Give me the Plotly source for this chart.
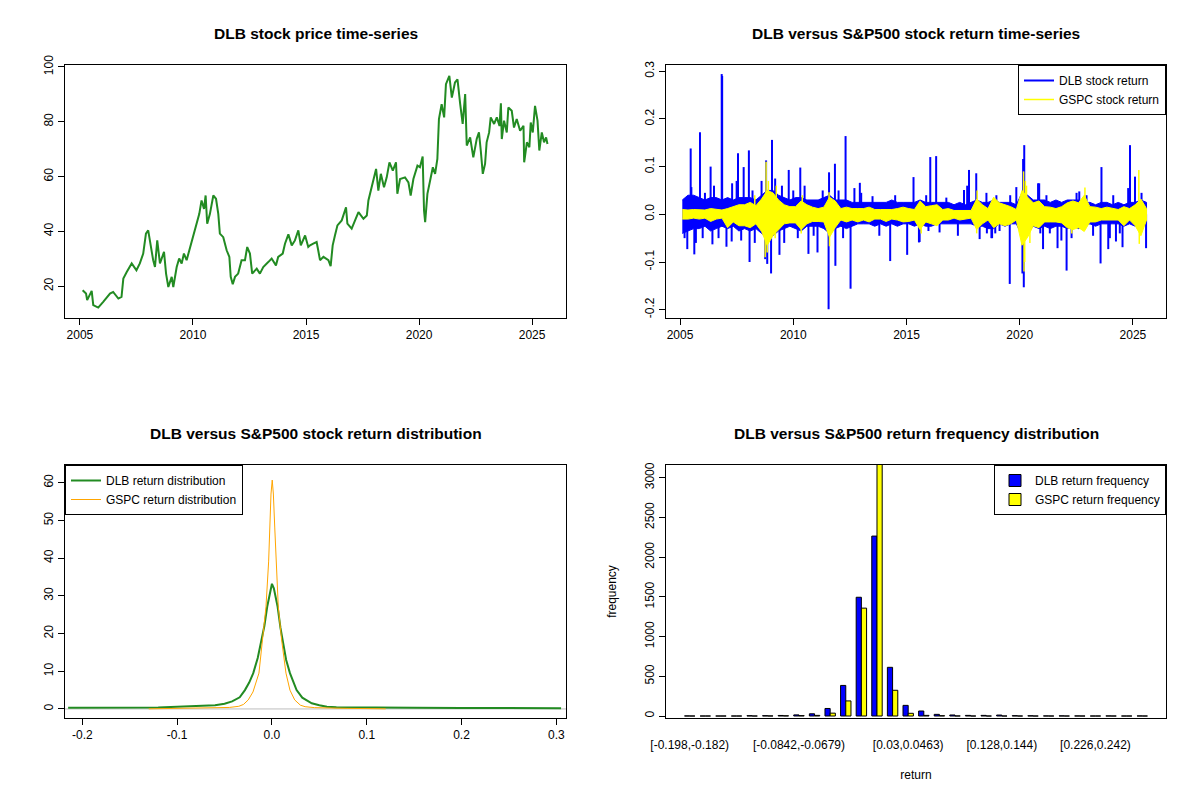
import plotly.graph_objects as go
from plotly.subplots import make_subplots

# DLB closing price (decimal year, USD)
price_year = [
    2005.12, 2005.27, 2005.32, 2005.52, 2005.59, 2005.81, 2006.03, 2006.33, 2006.47, 2006.70,
    2006.84, 2006.92, 2007.07, 2007.29, 2007.50, 2007.65, 2007.80, 2007.92, 2008.02, 2008.13,
    2008.24, 2008.32, 2008.42, 2008.54, 2008.72, 2008.81, 2008.91, 2009.06, 2009.13, 2009.28,
    2009.39, 2009.50, 2009.60, 2009.72, 2009.87, 2010.01, 2010.16, 2010.28, 2010.38, 2010.49,
    2010.56, 2010.63, 2010.75, 2010.90, 2011.02, 2011.12, 2011.19, 2011.34, 2011.49, 2011.61,
    2011.67, 2011.76, 2011.86, 2012.00, 2012.15, 2012.30, 2012.40, 2012.52, 2012.62, 2012.82,
    2012.96, 2013.11, 2013.33, 2013.48, 2013.67, 2013.77, 2013.97, 2014.07, 2014.22, 2014.37,
    2014.51, 2014.66, 2014.77, 2014.96, 2015.10, 2015.18, 2015.32, 2015.47, 2015.54, 2015.62,
    2015.77, 2015.99, 2016.09, 2016.18, 2016.28, 2016.39, 2016.58, 2016.77, 2016.83, 2017.02,
    2017.17, 2017.32, 2017.54, 2017.69, 2017.76, 2017.91, 2018.10, 2018.20, 2018.31, 2018.45,
    2018.57, 2018.69, 2018.84, 2018.98, 2019.04, 2019.16, 2019.38, 2019.53, 2019.63, 2019.75,
    2019.93, 2020.04, 2020.16, 2020.22, 2020.27, 2020.37, 2020.49, 2020.61, 2020.71, 2020.81,
    2020.88, 2021.00, 2021.11, 2021.19, 2021.34, 2021.45, 2021.59, 2021.70, 2021.82, 2021.93,
    2022.04, 2022.11, 2022.26, 2022.40, 2022.55, 2022.65, 2022.73, 2022.82, 2022.92, 2022.99,
    2023.10, 2023.17, 2023.32, 2023.44, 2023.56, 2023.62, 2023.66, 2023.76, 2023.88, 2023.95,
    2024.10, 2024.20, 2024.32, 2024.47, 2024.62, 2024.65, 2024.77, 2024.88, 2024.94, 2025.03,
    2025.13, 2025.24, 2025.32, 2025.43, 2025.53, 2025.62, 2025.68,
]
price_close = [
    18.5, 17.3, 14.9, 18.3, 13.1, 12.2, 14.3, 17.3, 17.9, 15.5,
    16.1, 22.8, 25.2, 28.3, 25.8, 28.3, 31.9, 39.2, 40.4, 34.3,
    29.5, 27.0, 36.7, 28.3, 32.5, 24.6, 19.7, 23.4, 19.7, 27.0,
    30.1, 28.3, 31.9, 29.5, 34.3, 37.9, 42.8, 46.4, 51.3, 48.2,
    53.1, 42.8, 46.4, 53.1, 51.9, 46.4, 39.2, 37.9, 33.1, 30.7,
    23.4, 20.7, 23.4, 24.6, 29.5, 29.5, 34.3, 31.9, 24.6, 26.4,
    24.6, 27.0, 28.8, 30.1, 27.6, 30.7, 31.9, 35.5, 38.9, 34.9,
    36.7, 40.4, 34.9, 38.5, 34.3, 34.9, 35.5, 36.1, 33.1, 29.5,
    30.7, 29.5, 27.3, 34.9, 38.5, 42.2, 44.0, 48.8, 42.8, 41.0,
    44.0, 47.0, 44.6, 45.8, 51.3, 56.7, 62.8, 54.9, 61.0, 56.1,
    59.7, 65.2, 62.2, 65.2, 53.7, 59.1, 59.7, 57.9, 53.1, 59.1,
    64.0, 63.4, 67.3, 47.6, 43.4, 53.7, 58.5, 63.4, 61.0, 66.4,
    81.0, 86.4, 81.6, 93.7, 96.7, 88.8, 94.3, 95.5, 86.4, 79.2,
    90.1, 71.3, 74.3, 67.0, 73.7, 76.1, 69.5, 61.0, 64.6, 72.5,
    76.1, 81.6, 79.2, 81.6, 78.5, 86.7, 73.7, 80.4, 76.1, 85.2,
    84.0, 77.9, 81.0, 76.7, 78.5, 65.2, 72.5, 70.7, 79.7, 76.1,
    85.8, 80.4, 69.5, 76.1, 72.5, 74.3, 71.9,
]

# daily returns: usual range per quarter (high / low) plus the isolated large moves
ret_quarter = [2005.10 + 0.25 * i for i in range(83)]
dlb_band_hi = [
    0.030, 0.040, 0.040, 0.035, 0.030, 0.035, 0.035, 0.030, 0.035, 0.030, 0.035, 0.035,
    0.035, 0.030, 0.040, 0.050, 0.050, 0.040, 0.035, 0.030, 0.035, 0.035, 0.030, 0.030,
    0.030, 0.035, 0.040, 0.030, 0.030, 0.030, 0.025, 0.025, 0.025, 0.025, 0.025, 0.025,
    0.025, 0.030, 0.025, 0.025, 0.025, 0.025, 0.030, 0.025, 0.025, 0.025, 0.025, 0.025,
    0.020, 0.025, 0.020, 0.025, 0.030, 0.025, 0.025, 0.030, 0.025, 0.025, 0.025, 0.020,
    0.045, 0.040, 0.030, 0.030, 0.030, 0.025, 0.030, 0.025, 0.030, 0.030, 0.030, 0.025,
    0.025, 0.020, 0.025, 0.025, 0.020, 0.025, 0.020, 0.025, 0.025, 0.030, 0.025,
]
dlb_band_lo = [
    -0.040, -0.035, -0.030, -0.030, -0.025, -0.035, -0.030, -0.025, -0.030, -0.025, -0.035, -0.030,
    -0.035, -0.030, -0.040, -0.050, -0.045, -0.035, -0.030, -0.025, -0.030, -0.035, -0.025, -0.025,
    -0.025, -0.030, -0.040, -0.030, -0.025, -0.030, -0.025, -0.020, -0.020, -0.020, -0.025, -0.020,
    -0.025, -0.020, -0.025, -0.020, -0.020, -0.025, -0.020, -0.025, -0.025, -0.020, -0.020, -0.020,
    -0.020, -0.020, -0.020, -0.020, -0.025, -0.025, -0.030, -0.030, -0.020, -0.025, -0.020, -0.020,
    -0.045, -0.040, -0.025, -0.030, -0.025, -0.030, -0.025, -0.025, -0.030, -0.025, -0.030, -0.025,
    -0.020, -0.025, -0.020, -0.020, -0.020, -0.020, -0.025, -0.020, -0.025, -0.030, -0.020,
]
gspc_band_hi = [
    0.010, 0.009, 0.010, 0.009, 0.009, 0.012, 0.010, 0.009, 0.012, 0.016, 0.020, 0.020,
    0.025, 0.018, 0.032, 0.050, 0.045, 0.030, 0.020, 0.016, 0.016, 0.028, 0.020, 0.015,
    0.012, 0.015, 0.036, 0.028, 0.012, 0.015, 0.012, 0.012, 0.012, 0.015, 0.010, 0.010,
    0.010, 0.010, 0.012, 0.015, 0.012, 0.010, 0.028, 0.016, 0.018, 0.020, 0.010, 0.012,
    0.008, 0.008, 0.008, 0.008, 0.032, 0.020, 0.012, 0.036, 0.024, 0.020, 0.016, 0.010,
    0.050, 0.036, 0.024, 0.028, 0.016, 0.015, 0.012, 0.016, 0.024, 0.028, 0.024, 0.040,
    0.016, 0.015, 0.012, 0.015, 0.012, 0.010, 0.016, 0.012, 0.020, 0.032, 0.012,
]
gspc_band_lo = [
    -0.010, -0.010, -0.008, -0.010, -0.008, -0.015, -0.010, -0.008, -0.028, -0.016, -0.024, -0.024,
    -0.028, -0.020, -0.036, -0.065, -0.045, -0.032, -0.020, -0.018, -0.018, -0.032, -0.020, -0.015,
    -0.015, -0.016, -0.048, -0.028, -0.012, -0.016, -0.012, -0.016, -0.012, -0.016, -0.010, -0.010,
    -0.015, -0.010, -0.012, -0.016, -0.015, -0.012, -0.032, -0.016, -0.020, -0.024, -0.012, -0.012,
    -0.008, -0.012, -0.010, -0.008, -0.032, -0.020, -0.012, -0.028, -0.020, -0.024, -0.020, -0.012,
    -0.065, -0.048, -0.024, -0.028, -0.016, -0.016, -0.016, -0.018, -0.028, -0.032, -0.028, -0.036,
    -0.016, -0.016, -0.012, -0.012, -0.012, -0.012, -0.024, -0.012, -0.024, -0.045, -0.012,
]
dlb_spike_year = [
    2005.20, 2005.32, 2005.47, 2005.50, 2005.63, 2005.70, 2005.88, 2006.00, 2006.10, 2006.35,
    2006.43, 2006.50, 2006.70, 2006.84, 2006.86, 2007.05, 2007.28, 2007.30, 2007.50, 2007.56,
    2007.70, 2007.81, 2008.04, 2008.07, 2008.20, 2008.30, 2008.60, 2008.76, 2008.80, 2008.85,
    2009.02, 2009.06, 2009.20, 2009.39, 2009.50, 2009.60, 2009.80, 2010.00, 2010.20, 2010.31,
    2010.50, 2010.67, 2010.90, 2011.07, 2011.30, 2011.56, 2011.58, 2011.84, 2011.86, 2012.00,
    2012.20, 2012.31, 2012.53, 2012.70, 2012.94, 2013.00, 2013.50, 2013.80, 2014.28, 2014.50,
    2015.03, 2015.31, 2015.55, 2015.58, 2015.87, 2015.97, 2016.05, 2016.31, 2016.46, 2016.76,
    2017.27, 2017.54, 2017.68, 2017.76, 2018.08, 2018.23, 2018.53, 2018.55, 2018.75, 2018.78,
    2018.92, 2018.97, 2019.11, 2019.56, 2019.58, 2019.85, 2020.12, 2020.15, 2020.18, 2020.20,
    2020.81, 2020.86, 2020.91, 2021.03, 2021.18, 2021.33, 2021.67, 2021.84, 2022.07, 2022.29,
    2022.51, 2022.63, 2022.95, 2023.24, 2023.57, 2023.61, 2023.91, 2023.98, 2024.13, 2024.25,
    2024.42, 2024.54, 2024.79, 2024.87, 2025.09, 2025.38, 2025.58,
]
dlb_spike_ret = [
    -0.050, -0.073, 0.138, 0.057, -0.084, -0.060, 0.172, -0.050, 0.045, 0.100,
    -0.063, 0.060, -0.050, 0.294, 0.290, -0.068, -0.057, 0.065, 0.070, 0.128,
    -0.055, 0.099, 0.134, -0.100, 0.050, -0.060, 0.070, -0.094, 0.113, -0.104,
    -0.124, 0.156, 0.075, -0.085, 0.060, -0.060, 0.093, 0.050, -0.050, 0.098,
    0.060, -0.083, -0.045, -0.080, 0.050, -0.199, 0.088, 0.106, -0.108, 0.050,
    -0.050, 0.164, -0.156, 0.055, 0.066, 0.045, 0.038, -0.045, -0.098, 0.040,
    -0.085, 0.078, -0.059, -0.058, 0.040, -0.035, 0.120, 0.122, -0.038, 0.035,
    -0.045, 0.051, 0.060, 0.093, 0.086, -0.052, 0.045, -0.040, -0.050, -0.050,
    -0.040, 0.040, -0.035, -0.146, 0.040, 0.057, -0.124, 0.116, -0.153, 0.145,
    0.065, 0.065, -0.040, -0.073, 0.040, -0.040, -0.071, -0.055, -0.118, -0.050,
    0.045, 0.048, 0.040, -0.045, -0.103, 0.099, -0.073, -0.050, 0.040, -0.057,
    -0.040, -0.069, 0.055, 0.145, 0.079, 0.045, -0.071,
]
gspc_spike_year = [2008.30, 2008.76, 2008.80, 2008.85, 2008.90, 2009.20, 2009.25, 2010.35,
                   2010.40, 2011.58, 2011.60, 2015.65, 2018.10, 2018.12, 2020.17, 2020.19,
                   2020.22, 2020.25, 2020.30, 2020.45, 2022.30, 2022.88, 2025.26, 2025.28]
gspc_spike_ret = [0.040, -0.090, 0.110, -0.080, 0.070, -0.050, 0.060, -0.040,
                  0.040, 0.046, -0.067, -0.040, -0.040, 0.050, 0.090, -0.120,
                  -0.100, 0.070, 0.060, -0.060, -0.040, 0.056, 0.093, -0.062]

# kernel density of daily returns
dlb_dens_x = [-0.215, -0.19, -0.15, -0.12, -0.10, -0.08, -0.07, -0.06, -0.05, -0.042,
              -0.034, -0.0285, -0.024, -0.0197, -0.015, -0.0109, -0.008, -0.005, -0.002, 0.0,
              0.002, 0.004, 0.006, 0.009, 0.0113, 0.015, 0.019, 0.023, 0.026, 0.032,
              0.042, 0.05, 0.058, 0.068, 0.08, 0.10, 0.12, 0.15, 0.20, 0.25, 0.305]
dlb_dens_y = [0.3, 0.35, 0.3, 0.4, 0.6, 0.7, 0.9, 1.0, 1.4, 2.0,
              3.1, 5.0, 7.0, 9.5, 13.5, 18.3, 22.0, 27.1, 31.0, 33.2,
              32.0, 29.5, 27.1, 21.5, 18.3, 13.0, 9.5, 6.8, 5.0, 3.0,
              1.5, 1.0, 0.6, 0.45, 0.4, 0.35, 0.3, 0.3, 0.25, 0.2, 0.2]
gspc_dens_x = [-0.13, -0.10, -0.08, -0.06, -0.045, -0.035, -0.03, -0.025, -0.02, -0.0137,
               -0.0102, -0.0063, -0.0035, -0.0025, -0.001, 0.0003, 0.0015, 0.003, 0.0045, 0.0067,
               0.0102, 0.0148, 0.019, 0.024, 0.03, 0.035, 0.045, 0.06, 0.08, 0.10, 0.12]
gspc_dens_y = [0.03, 0.1, 0.15, 0.25, 0.4, 0.7, 1.2, 2.4, 4.5, 9.5,
               18.3, 27.1, 39.0, 48.0, 57.0, 60.7, 57.0, 48.0, 39.0, 27.1,
               18.3, 9.5, 5.0, 2.4, 1.0, 0.6, 0.35, 0.2, 0.15, 0.1, 0.03]

# return frequency table (30 equal-width bins)
bin_labels = [
    "[-0.198,-0.182)", "[-0.182,-0.166)", "[-0.166,-0.149)", "[-0.149,-0.133)", "[-0.133,-0.117)",
    "[-0.117,-0.1)", "[-0.1,-0.0842)", "[-0.0842,-0.0679)", "[-0.0679,-0.0515)", "[-0.0515,-0.0352)",
    "[-0.0352,-0.0189)", "[-0.0189,-0.00262)", "[-0.00262,0.0137)", "[0.0137,0.03)", "[0.03,0.0463)",
    "[0.0463,0.0626)", "[0.0626,0.0789)", "[0.0789,0.0952)", "[0.0952,0.112)", "[0.112,0.128)",
    "[0.128,0.144)", "[0.144,0.16)", "[0.16,0.177)", "[0.177,0.193)", "[0.193,0.209)",
    "[0.209,0.226)", "[0.226,0.242)", "[0.242,0.258)", "[0.258,0.275)", "[0.275,0.291]",
]
dlb_freq = [1, 0, 0, 0, 4, 4, 7, 14, 28, 95, 385, 1495, 2265, 613, 134,
            63, 21, 13, 8, 8, 12, 4, 3, 1, 2, 1, 0, 1, 0, 1]
gspc_freq = [0, 0, 0, 0, 0, 1, 3, 5, 8, 36, 190, 1358, 3190, 324, 34,
             8, 4, 1, 0, 0, 0, 0, 0, 0, 0, 0, 0, 0, 0, 0]
shown_bins = ["[-0.198,-0.182)", "[-0.0842,-0.0679)", "[0.03,0.0463)", "[0.128,0.144)", "[0.226,0.242)"]


def band_polygon(hi, lo):
    return ret_quarter + ret_quarter[::-1], hi + lo[::-1]


def spike_segments(years, rets):
    xs, ys = [], []
    for t, r in zip(years, rets):
        xs += [t, t, None]
        ys += [0, r, None]
    return xs, ys


FONT = "Liberation Sans, Arial, sans-serif"

fig = make_subplots(rows=2, cols=2)

fig.add_trace(go.Scatter(x=price_year, y=price_close, mode='lines', showlegend=False,
                         line=dict(color='forestgreen', width=2)), row=1, col=1)

bx, by = band_polygon(dlb_band_hi, dlb_band_lo)
fig.add_trace(go.Scatter(x=bx, y=by, mode='lines', fill='toself', fillcolor='blue',
                         line=dict(color='blue', width=1), showlegend=False), row=1, col=2)
sx, sy = spike_segments(dlb_spike_year, dlb_spike_ret)
fig.add_trace(go.Scatter(x=sx, y=sy, mode='lines', name='DLB stock return',
                         line=dict(color='blue', width=2)), row=1, col=2)
bx, by = band_polygon(gspc_band_hi, gspc_band_lo)
fig.add_trace(go.Scatter(x=bx, y=by, mode='lines', fill='toself', fillcolor='yellow',
                         line=dict(color='yellow', width=1), showlegend=False), row=1, col=2)
sx, sy = spike_segments(gspc_spike_year, gspc_spike_ret)
fig.add_trace(go.Scatter(x=sx, y=sy, mode='lines', name='GSPC stock return',
                         line=dict(color='yellow', width=1.5)), row=1, col=2)

fig.add_trace(go.Scatter(x=dlb_dens_x, y=dlb_dens_y, mode='lines', name='DLB return distribution',
                         legend='legend2', line=dict(color='forestgreen', width=2)), row=2, col=1)
fig.add_trace(go.Scatter(x=gspc_dens_x, y=gspc_dens_y, mode='lines', name='GSPC return distribution',
                         legend='legend2', line=dict(color='orange', width=1)), row=2, col=1)

fig.add_trace(go.Bar(x=bin_labels, y=dlb_freq, name='DLB return frequency', legend='legend3',
                     marker=dict(color='blue', line=dict(color='black', width=1))), row=2, col=2)
fig.add_trace(go.Bar(x=bin_labels, y=gspc_freq, name='GSPC return frequency', legend='legend3',
                     marker=dict(color='yellow', line=dict(color='black', width=1))), row=2, col=2)

# density zero line
fig.add_shape(type='line', xref='x3 domain', yref='y3', x0=0, x1=1, y0=0, y1=0,
              line=dict(color='#BEBEBE', width=1), layer='below')

axis_style = dict(showline=True, mirror=True, linecolor='black', linewidth=1, showgrid=False,
                  zeroline=False, ticks='outside', ticklen=6, tickcolor='black', automargin=False,
                  tickfont=dict(size=12, color='black'))

left_dom = [65 / 1200, 566 / 1200]
right_dom = [666 / 1200, 1166 / 1200]
top_dom = [1 - 318 / 800, 1 - 65 / 800]
bot_dom = [1 - 718 / 800, 1 - 465 / 800]
years = [2005, 2010, 2015, 2020, 2025]
legend_style = dict(bordercolor='black', borderwidth=1, bgcolor='white',
                    font=dict(size=12, color='black'), tracegroupgap=0)

fig.update_layout(
    xaxis=dict(axis_style, domain=left_dom, range=[2004.34, 2026.5], tickvals=years),
    yaxis=dict(axis_style, domain=top_dom, range=[8.4, 100.7], tickvals=[20, 40, 60, 80, 100], tickangle=-90),
    xaxis2=dict(axis_style, domain=right_dom, range=[2004.38, 2026.46], tickvals=years),
    yaxis2=dict(axis_style, domain=top_dom, range=[-0.2174, 0.313],
                tickvals=[-0.2, -0.1, 0, 0.1, 0.2, 0.3],
                ticktext=['-0.2', '-0.1', '0.0', '0.1', '0.2', '0.3'], tickangle=-90),
    xaxis3=dict(axis_style, domain=left_dom, range=[-0.2183, 0.3102],
                tickvals=[-0.2, -0.1, 0, 0.1, 0.2, 0.3],
                ticktext=['-0.2', '-0.1', '0.0', '0.1', '0.2', '0.3']),
    yaxis3=dict(axis_style, domain=bot_dom, range=[-2.4, 64.7],
                tickvals=[0, 10, 20, 30, 40, 50, 60], tickangle=-90),
    xaxis4=dict(axis_style, domain=right_dom, type='category', range=[-1.52, 30.52],
                tickvals=shown_bins, ticks='', ticklabelstandoff=16,
                title=dict(text='return', font=dict(size=12, color='black'), standoff=19)),
    yaxis4=dict(axis_style, domain=bot_dom, range=[-25, 3160],
                tickvals=[0, 500, 1000, 1500, 2000, 2500, 3000], tickangle=-90,
                title=dict(text='frequency', font=dict(size=12, color='black'), standoff=24)),
    barmode='group', bargap=1 / 3, bargroupgap=0,
    width=1200, height=800,
    margin=dict(l=0, r=0, t=0, b=0),
    paper_bgcolor='white', plot_bgcolor='white',
    font=dict(family=FONT, size=12, color='black'),
    legend=dict(legend_style, x=right_dom[1], xanchor='right', y=top_dom[1], yanchor='top'),
    legend2=dict(legend_style, x=left_dom[0], xanchor='left', y=bot_dom[1], yanchor='top'),
    legend3=dict(legend_style, x=right_dom[1], xanchor='right', y=bot_dom[1], yanchor='top'),
)

titles = [
    ('DLB stock price time-series', sum(left_dom) / 2, 1 - 33 / 800),
    ('DLB versus S&P500 stock return time-series', sum(right_dom) / 2, 1 - 33 / 800),
    ('DLB versus S&P500 stock return distribution', sum(left_dom) / 2, 1 - 433 / 800),
    ('DLB versus S&P500 return frequency distribution', sum(right_dom) / 2, 1 - 433 / 800),
]
for text, x, y in titles:
    fig.add_annotation(text='<b>' + text + '</b>', x=x, y=y, xref='paper', yref='paper',
                       xanchor='center', yanchor='middle', showarrow=False,
                       font=dict(size=15.5, color='black', family=FONT))

# the page body has a default 8px margin; drop it so the figure sits at the window corner
fig.write_html("out.html", config={'displayModeBar': False},
               post_script="document.body.style.margin = '0px';")
